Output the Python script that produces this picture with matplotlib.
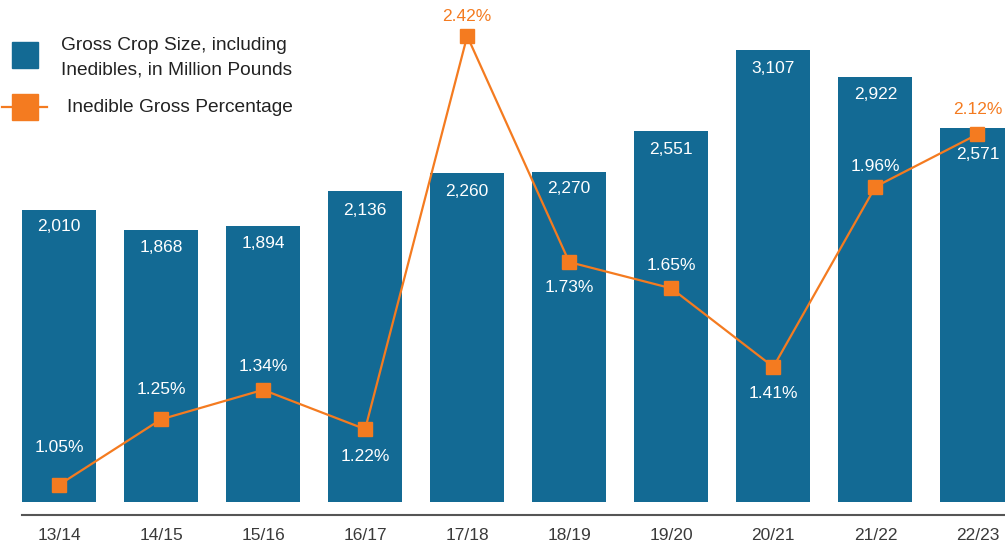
import matplotlib
matplotlib.use('Agg')
import matplotlib.pyplot as plt
from matplotlib.patches import Rectangle
from matplotlib.lines import Line2D

plt.rcParams['font.family'] = ['Liberation Sans', 'DejaVu Sans']

years = ['13/14', '14/15', '15/16', '16/17', '17/18', '18/19', '19/20', '20/21', '21/22', '22/23']
crop_size = [2010, 1868, 1894, 2136, 2260, 2270, 2551, 3107, 2922, 2571]
inedible_pct = [1.05, 1.25, 1.34, 1.22, 2.42, 1.73, 1.65, 1.41, 1.96, 2.12]
# label offsets in pixels
bar_offsets = [-17, -17, -17, -19, -18, -17, -19, -19, -18, -27]
pct_offsets = [37, 30, 23, -27, 20, -25, 23, -27, 20, 25]

blue = '#136a94'
orange = '#f47b20'

fig = plt.figure(figsize=(10.05, 5.45), dpi=100)
ax = fig.add_axes([22/1005, 30/545, 983/1005, 495/545])
x = range(len(years))

ax.bar(x, crop_size, width=0.725, color=blue, zorder=1)
for xi, v, off in zip(x, crop_size, bar_offsets):
    ax.annotate(f'{v:,}', (xi, v), xytext=(0, off), textcoords='offset pixels',
                ha='center', va='center', color='white', fontsize=12.5)

ax.set_xlim(-0.3625, 9.27)
ax.set_ylim(-89.3, 3313)
ax.set_yticks([])
ax.set_xticks(list(x))
ax.set_xticklabels(years, fontsize=12.5, color='#3a3a3a')
ax.tick_params(axis='x', length=0, pad=9)
for s in ['top', 'left', 'right']:
    ax.spines[s].set_visible(False)
ax.spines['bottom'].set_color('#555555')
ax.spines['bottom'].set_linewidth(1.5)

ax2 = ax.twinx()
ax2.plot(x, inedible_pct, color=orange, lw=1.6, marker='s', markersize=9.5, zorder=3)
ax2.set_ylim(0.958, 2.469)
ax2.set_yticks([])
for s in ['top', 'left', 'right', 'bottom']:
    ax2.spines[s].set_visible(False)
for xi, v, off in zip(x, inedible_pct, pct_offsets):
    col = orange if v > 2.0 else 'white'
    ax2.annotate(f'{v:.2f}%', (xi, v), xytext=(0, off), textcoords='offset pixels',
                 ha='center', va='center', color=col, fontsize=12.5)

# legend drawn by hand
fig.add_artist(Rectangle((12/1005, 1 - 68/545), 26/1005, 26/545,
                         transform=fig.transFigure, color=blue))
fig.text(61/1005, 1 - 46/545, 'Gross Crop Size, including', fontsize=13.8,
         color='#222222', va='center')
fig.text(61/1005, 1 - 70/545, 'Inedibles, in Million Pounds', fontsize=13.8,
         color='#222222', va='center')
fig.add_artist(Line2D([2/1005, 47/1005], [1 - 107/545] * 2, transform=fig.transFigure,
                      color=orange, lw=1.6))
fig.add_artist(Rectangle((12/1005, 1 - 120/545), 26/1005, 26/545,
                         transform=fig.transFigure, color=orange))
fig.text(67/1005, 1 - 107/545, 'Inedible Gross Percentage', fontsize=13.8,
         color='#222222', va='center')

fig.savefig('out.png', dpi=100)
